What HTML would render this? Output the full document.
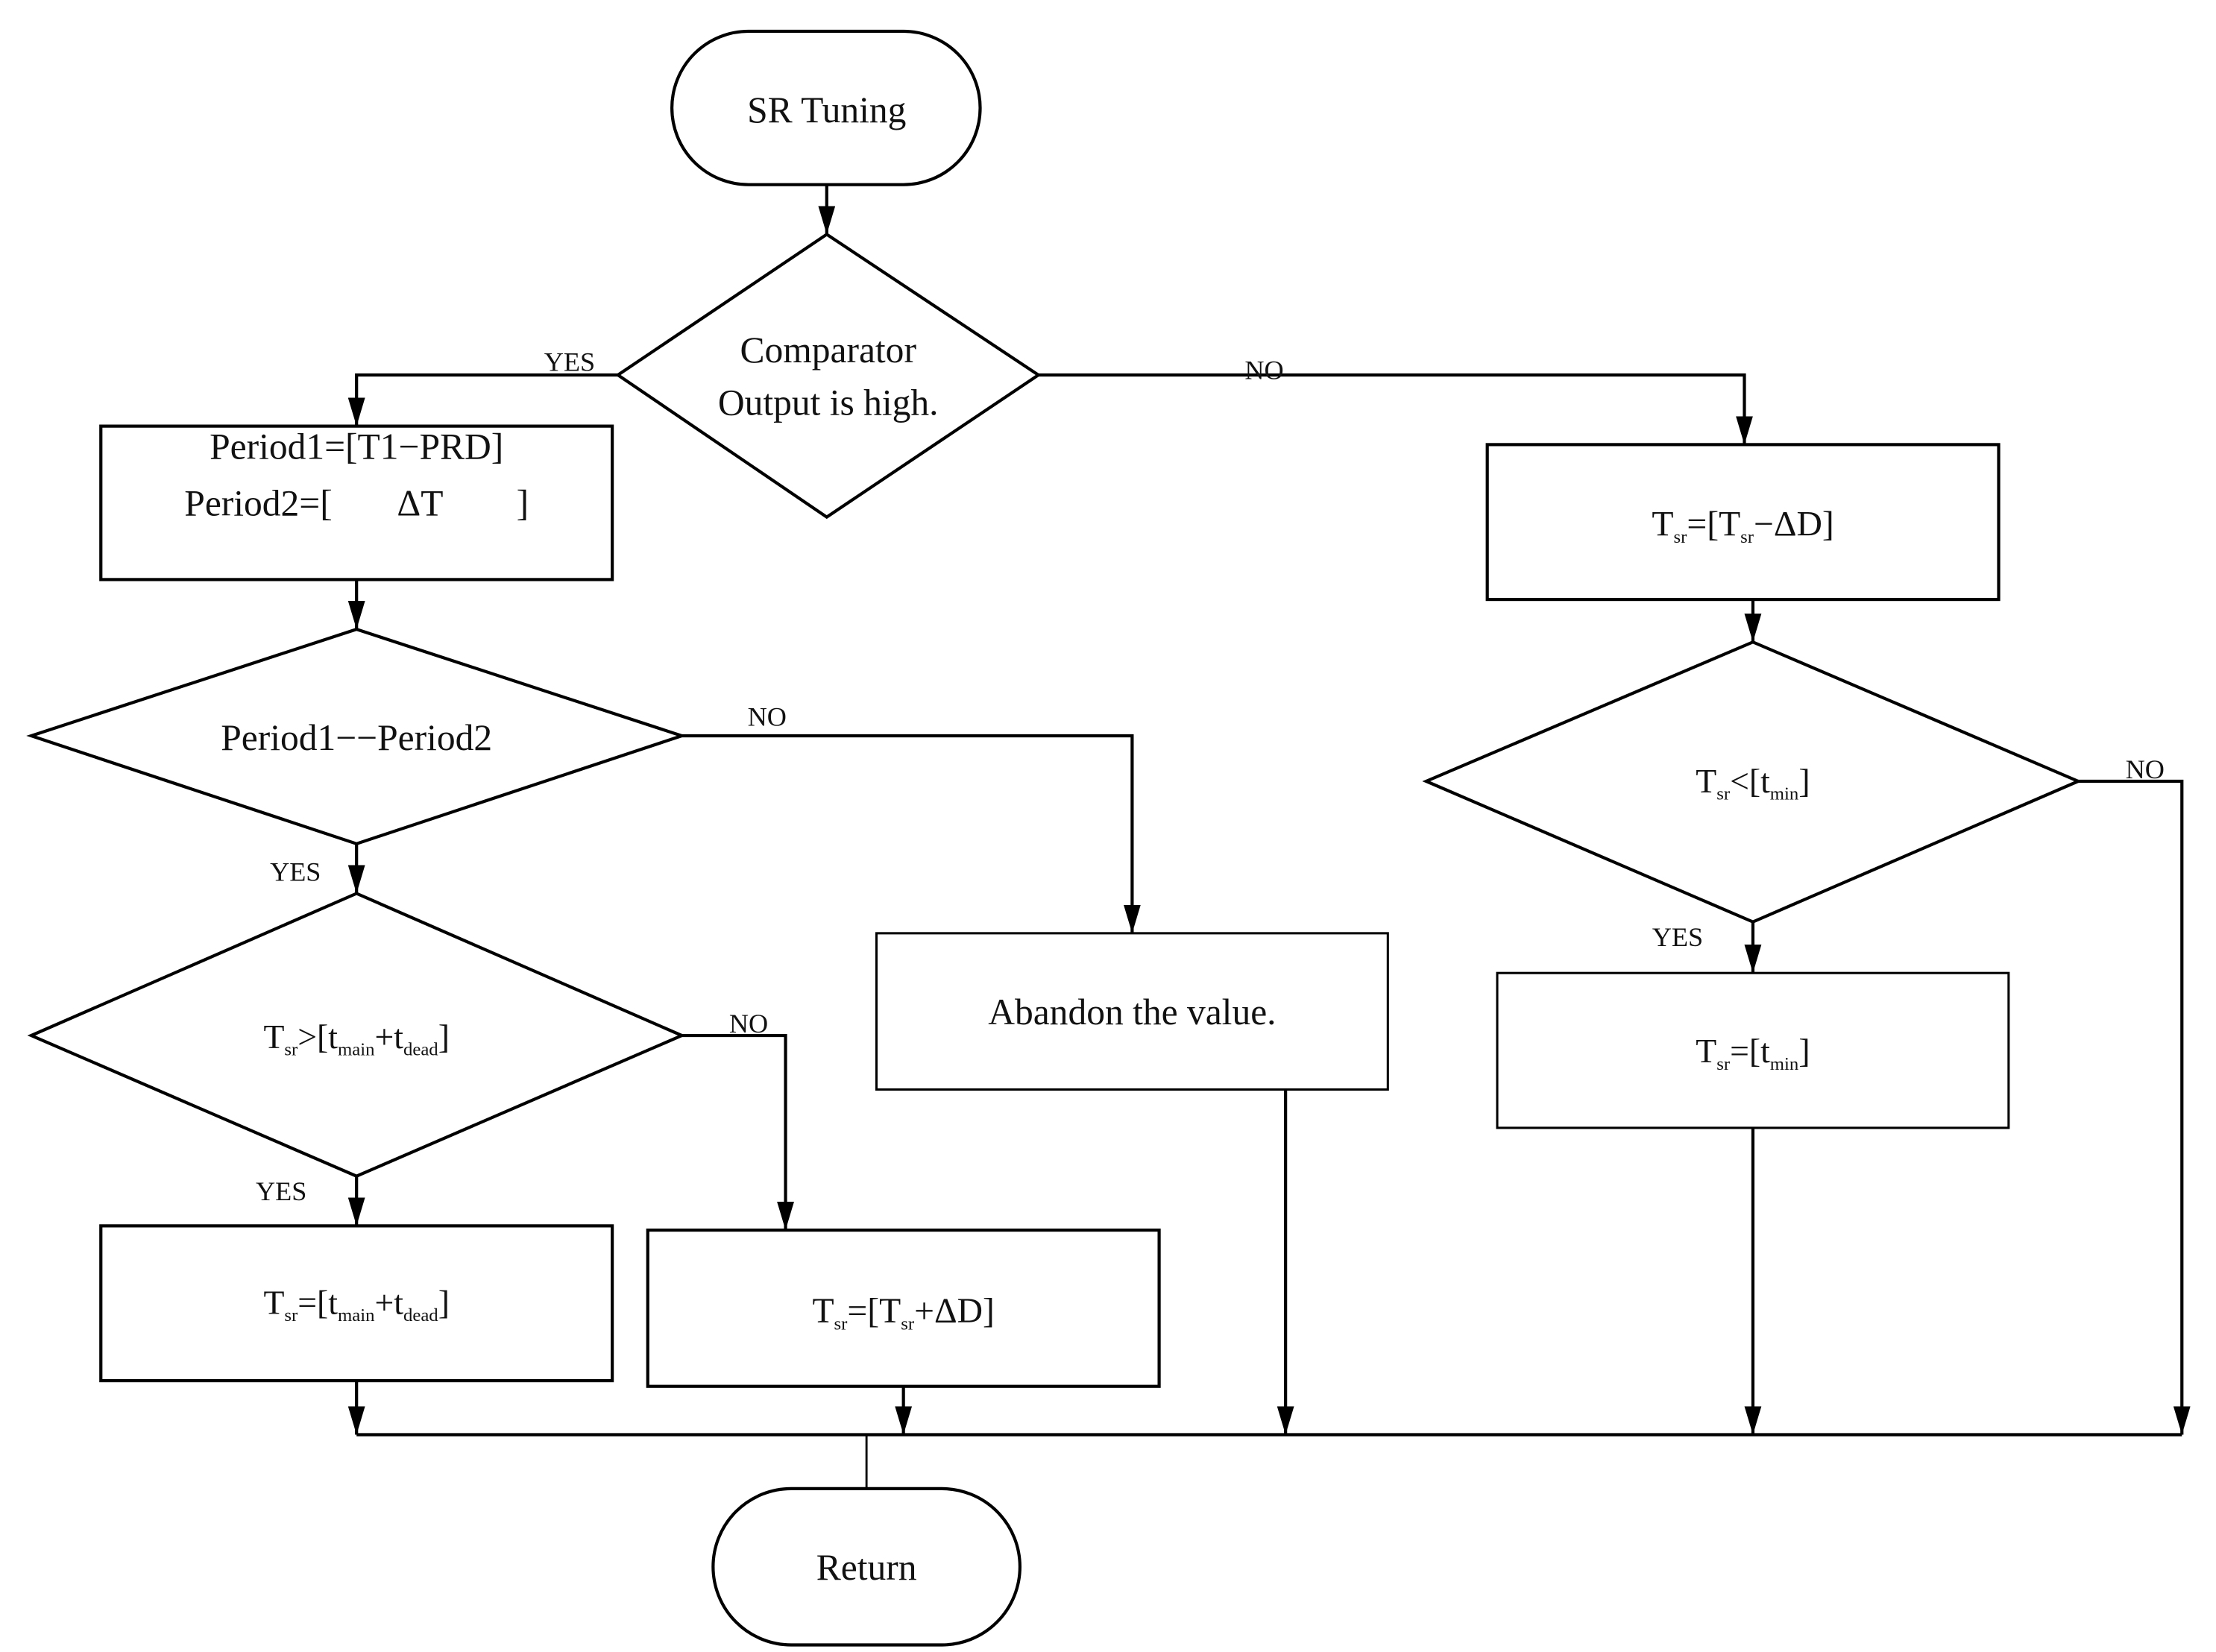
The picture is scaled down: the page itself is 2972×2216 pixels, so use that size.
<!DOCTYPE html>
<html><head><meta charset="utf-8"><style>
html,body{margin:0;padding:0;background:#fff;}
svg{display:block;}
text{font-family:"Liberation Serif",serif;fill:#111;}
</style></head><body>
<svg width="2972" height="2216" viewBox="0 0 1560 1163" preserveAspectRatio="none" xmlns="http://www.w3.org/2000/svg">
<defs>
<marker id="a" markerWidth="20" markerHeight="12" refX="20" refY="6" orient="auto" markerUnits="userSpaceOnUse" viewBox="0 0 20 12">
<path d="M0,0 L20,6 L0,12 z" fill="#000"/></marker>
</defs>
<g fill="none" stroke="#000" stroke-width="2.2">
<rect x="473" y="22" width="217" height="108" rx="54" ry="54"/>
<rect x="502" y="1048" width="216" height="110" rx="55" ry="55"/>
<polygon points="582,165 731,264 582,364 435,264"/>
<polygon points="251,443 480,518 251,594 22,518"/>
<polygon points="251,629 480,729 251,828 22,729"/>
<polygon points="1234,452 1463,550 1234,649 1004,550"/>
<rect x="71" y="300" width="360" height="108"/>
<rect x="71" y="863" width="360" height="109"/>
<rect x="456" y="866" width="360" height="110"/>
<rect x="617" y="657" width="360" height="110" stroke-width="1.6"/>
<rect x="1047" y="313" width="360" height="109"/>
<rect x="1054" y="685" width="360" height="109" stroke-width="1.6"/>
<g marker-end="url(#a)">
<path d="M582,130 V165"/>
<path d="M435,264 H251 V300"/>
<path d="M731,264 H1228 V313"/>
<path d="M251,408 V443"/>
<path d="M480,518 H797 V657"/>
<path d="M251,594 V629"/>
<path d="M480,729 H553 V866"/>
<path d="M251,828 V863"/>
<path d="M1234,422 V452"/>
<path d="M1234,649 V685"/>
<path d="M1463,550 H1536 V1010"/>
<path d="M1234,794 V1010"/>
<path d="M905,767 V1010"/>
<path d="M636,976 V1010"/>
<path d="M251,972 V1010"/>
</g>
<path d="M251,1010 H1536"/>
<path d="M610,1010 V1048" stroke-width="1.5"/>
</g>
<g font-size="26" text-anchor="middle">
<text x="582" y="86">SR Tuning</text>
<text x="583" y="255">Comparator</text>
<text x="583" y="292">Output is high.</text>
<text x="251" y="323">Period1=[T1−PRD]</text>
<text x="251" y="363" xml:space="preserve">Period2=[       ΔT        ]</text>
<text x="251" y="528">Period1−−Period2</text>
<text x="251" y="738" font-size="24">T<tspan font-size="13" dy="5">sr</tspan><tspan dy="-5">&gt;[t</tspan><tspan font-size="13" dy="5">main</tspan><tspan dy="-5">+t</tspan><tspan font-size="13" dy="5">dead</tspan><tspan dy="-5">]</tspan></text>
<text x="251" y="925" font-size="24">T<tspan font-size="13" dy="5">sr</tspan><tspan dy="-5">=[t</tspan><tspan font-size="13" dy="5">main</tspan><tspan dy="-5">+t</tspan><tspan font-size="13" dy="5">dead</tspan><tspan dy="-5">]</tspan></text>
<text x="636" y="931" font-size="25">T<tspan font-size="13" dy="5">sr</tspan><tspan dy="-5">=[T</tspan><tspan font-size="13" dy="5">sr</tspan><tspan dy="-5">+ΔD]</tspan></text>
<text x="797" y="721">Abandon the value.</text>
<text x="1227" y="377" font-size="25">T<tspan font-size="13" dy="5">sr</tspan><tspan dy="-5">=[T</tspan><tspan font-size="13" dy="5">sr</tspan><tspan dy="-5">−ΔD]</tspan></text>
<text x="1234" y="558" font-size="24">T<tspan font-size="13" dy="5">sr</tspan><tspan dy="-5">&lt;[t</tspan><tspan font-size="13" dy="5">min</tspan><tspan dy="-5">]</tspan></text>
<text x="1234" y="748" font-size="24">T<tspan font-size="13" dy="5">sr</tspan><tspan dy="-5">=[t</tspan><tspan font-size="13" dy="5">min</tspan><tspan dy="-5">]</tspan></text>
<text x="610" y="1112">Return</text>
</g>
<g font-size="19" text-anchor="middle">
<text x="401" y="261">YES</text>
<text x="890" y="267">NO</text>
<text x="540" y="511">NO</text>
<text x="208" y="620">YES</text>
<text x="527" y="727">NO</text>
<text x="198" y="845">YES</text>
<text x="1510" y="548">NO</text>
<text x="1181" y="666">YES</text>
</g>
</svg>
</body></html>
